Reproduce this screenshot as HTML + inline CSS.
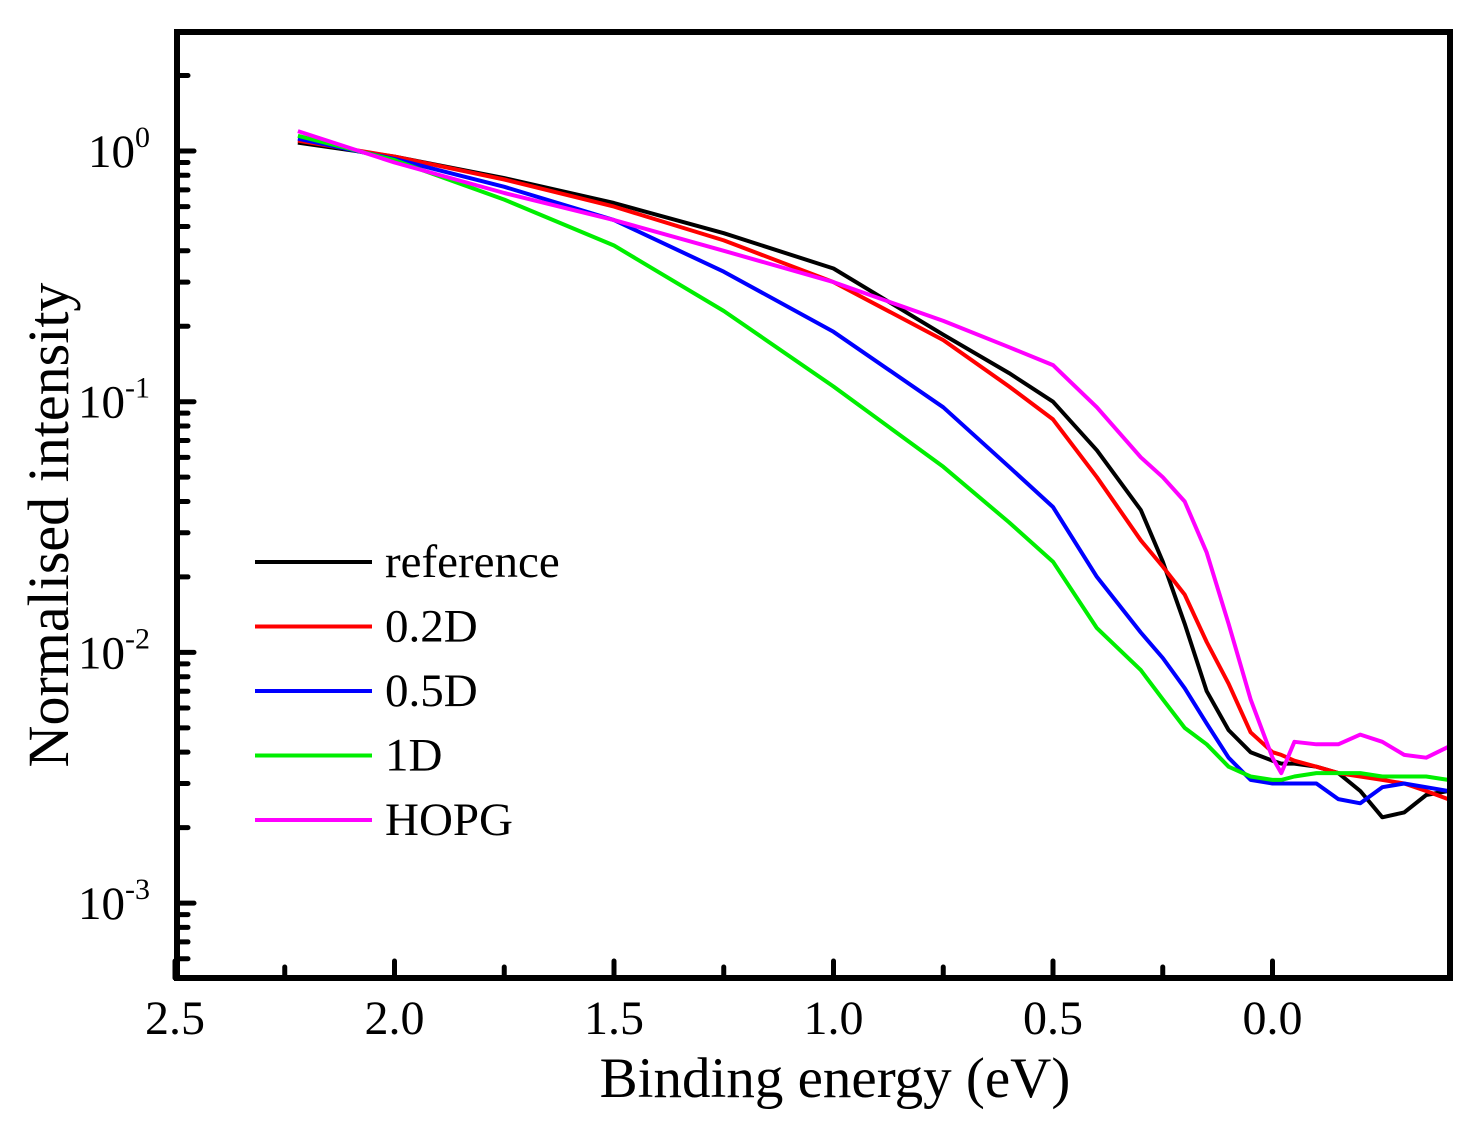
<!DOCTYPE html>
<html><head><meta charset="utf-8"><style>
html,body{margin:0;padding:0;background:#fff;}
svg{display:block;font-family:"Liberation Serif",serif;}
</style></head><body>
<svg id="chart" width="1479" height="1135" viewBox="0 0 1479 1135">
<g id="plot"></g>
</svg>
<script>
const energies = [2.22,2.0,1.75,1.5,1.25,1.0,0.75,0.6,0.5,0.4,0.3,0.25,0.2,0.15,0.1,0.05,0.0,-0.02,-0.05,-0.1,-0.15,-0.2,-0.25,-0.3,-0.35,-0.4];
const seriesNames = ["reference","0.2D","0.5D","1D","HOPG"];
const seriesColors = ["#000000","#ff0000","#0000ff","#00ee00","#ff00ff"];
const refVals  = [1.08,0.95,0.78,0.62,0.47,0.34,0.185,0.13,0.10,0.064,0.037,0.023,0.013,0.007,0.0049,0.004,0.0037,0.0036,0.0036,0.0035,0.0033,0.0028,0.0022,0.0023,0.0027,0.0028];
const d02Vals  = [1.1,0.95,0.77,0.60,0.44,0.30,0.176,0.115,0.085,0.05,0.028,0.022,0.017,0.011,0.0075,0.0048,0.004,0.0039,0.0037,0.0035,0.0033,0.0032,0.0031,0.003,0.0028,0.0026];
const d05Vals  = [1.12,0.93,0.72,0.53,0.33,0.19,0.095,0.055,0.038,0.02,0.012,0.0095,0.0072,0.0052,0.0038,0.0031,0.003,0.003,0.003,0.003,0.0026,0.0025,0.0029,0.003,0.0029,0.0028];
const d1Vals   = [1.15,0.92,0.64,0.42,0.23,0.115,0.055,0.033,0.023,0.0125,0.0085,0.0065,0.005,0.0043,0.0035,0.0032,0.0031,0.0031,0.0032,0.0033,0.0033,0.0033,0.0032,0.0032,0.0032,0.0031];
const hopgVals = [1.2,0.9,0.68,0.53,0.40,0.30,0.21,0.165,0.14,0.095,0.06,0.05,0.04,0.025,0.013,0.0065,0.0038,0.0033,0.0044,0.0043,0.0043,0.0047,0.0044,0.0039,0.0038,0.0042];
const allVals = [refVals,d02Vals,d05Vals,d1Vals,hopgVals];
const xTicks = [2.5,2.0,1.5,1.0,0.5,0.0];
const xTickLabels = ["2.5","2.0","1.5","1.0","0.5","0.0"];
const yDecades = [0,-1,-2,-3];

const L=177,R=1450,T=32,B=978;
const X0=175, PXE=439;
function xs(e){return X0+(2.5-e)*PXE;}
function yv(v){return 151-Math.log10(v)*250.7;}
const NS="http://www.w3.org/2000/svg";
const g=document.getElementById('plot');
function mk(t,a,p){const e=document.createElementNS(NS,t);for(const k in a)e.setAttribute(k,a[k]);(p||g).appendChild(e);return e;}

allVals.forEach((vals,i)=>{
  const d=energies.map((e,j)=>(j?'L':'M')+xs(e).toFixed(1)+','+yv(vals[j]).toFixed(1)).join(' ');
  const p=mk('path',{d:d,fill:'none',stroke:seriesColors[i],'stroke-width':4,'stroke-linejoin':'round'});
  
  
});

for(let k=0;k<=10;k++){
  const e=2.5-k*0.25; const x=xs(e); if(x>R)break;
  const major=k%2===0;
  const t=mk('line',{x1:x,x2:x,y1:B,y2:B-(major?17:11),stroke:'#000','stroke-width':5,'stroke-linecap':'round'});
  
  
}
xTicks.forEach((e,i)=>{
  const t=mk('text',{x:xs(e),y:1034,'font-size':48,'text-anchor':'middle'});
  t.textContent=xTickLabels[i];
  
  
});
yDecades.forEach(dd=>{
  for(let m=1;m<=9;m++){
    const v=m*Math.pow(10,dd); const y=yv(v);
    if(y<T||y>B)continue;
    const t=mk('line',{x1:L,x2:L+(m===1?17:11),y1:y,y2:y,stroke:'#000','stroke-width':5,'stroke-linecap':'round'});
    
    
  }
  const t=mk('text',{x:150,y:yv(Math.pow(10,dd))+16,'font-size':47,'text-anchor':'end'});
  t.innerHTML='10<tspan dy="-20" font-size="30">'+dd+'</tspan>';
  
  
});
for(let m=5;m<=9;m++){const y=yv(m*1e-4);if(y>B)continue;const t=mk('line',{x1:L,x2:L+11,y1:y,y2:y,stroke:'#000','stroke-width':5,'stroke-linecap':'round'});

}

const f=mk('rect',{x:L,y:T,width:R-L,height:B-T,fill:'none',stroke:'#000','stroke-width':6});



const xt=mk('text',{x:835,y:1097,'font-size':57,'text-anchor':'middle'});
xt.textContent='Binding energy (eV)';


const yt=mk('text',{x:0,y:0,'font-size':58,'text-anchor':'middle',transform:'translate(68,525) rotate(-90)'});
yt.textContent='Normalised intensity';



seriesNames.forEach((n,i)=>{
  const y=562+i*64.5;
  const l=mk('line',{x1:255,x2:372,y1:y,y2:y,stroke:seriesColors[i],'stroke-width':4});
  
  
  const t=mk('text',{x:385,y:y+15,'font-size':47});
  t.textContent=n;
  
  
});
</script>
</body></html>
